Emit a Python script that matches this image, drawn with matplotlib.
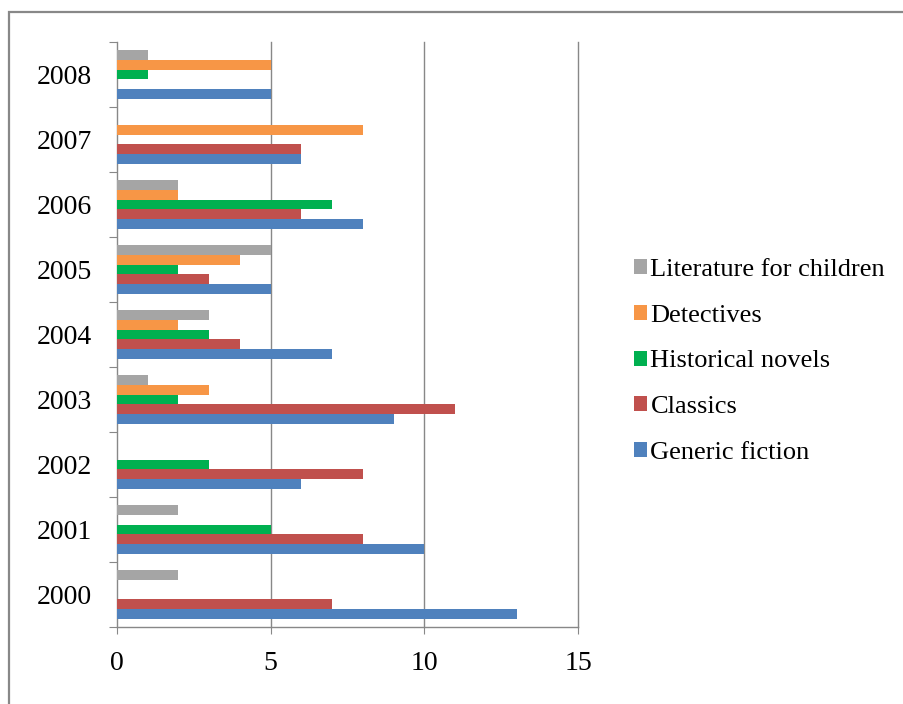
import matplotlib.pyplot as plt
import matplotlib.patches as patches
import numpy as np

plt.rcParams['font.family'] = ['Liberation Serif', 'DejaVu Serif']

# Data
years = ['2000', '2001', '2002', '2003', '2004', '2005', '2006', '2007', '2008']
generic_fiction = [13, 10, 6, 9, 7, 5, 8, 6, 5]
classics = [7, 8, 8, 11, 4, 3, 6, 6, 0]
historical_novels = [0, 5, 3, 2, 3, 2, 7, 0, 1]
detectives = [0, 0, 0, 3, 2, 4, 2, 8, 5]
literature_children = [2, 2, 0, 1, 3, 5, 2, 0, 1]

series = [
    ('Generic fiction', generic_fiction, '#4F81BD'),
    ('Classics', classics, '#C0504D'),
    ('Historical novels', historical_novels, '#00B050'),
    ('Detectives', detectives, '#F79646'),
    ('Literature for children', literature_children, '#A5A5A5'),
]

fig = plt.figure(figsize=(9.04, 7.04), dpi=100)
ax = fig.add_axes([0.1294, 0.1094, 0.5100, 0.8309])

# outer frame like the spreadsheet chart border
fig.add_artist(patches.Rectangle((9 / 904, -0.05), 1.0, 1 - 12 / 704 + 0.05,
                                 transform=fig.transFigure, fill=False,
                                 edgecolor='#888888', linewidth=1.6))

y = np.arange(len(years))
h = 0.15
handles = []
for i, (name, vals, color) in enumerate(series):
    off = (i - 2) * h
    b = ax.barh(y + off, vals, height=h, color=color, edgecolor='none',
                label=name, zorder=3)
    handles.append(b)

ax.set_xlim(0, 15)
ax.set_ylim(-0.5, len(years) - 0.5)
ax.set_xticks([0, 5, 10, 15])
ax.tick_params(axis='x', labelsize=20, length=5, color='#888888', pad=12)

# boundaries as major ticks, labels as minor ticks at centers
ax.set_yticks(np.arange(-0.5, len(years), 1.0))
ax.set_yticklabels([])
ax.tick_params(axis='y', which='major', length=6, color='#888888')
ax.set_yticks(y, minor=True)
ax.set_yticklabels(years, minor=True)
ax.tick_params(axis='y', which='minor', length=0, labelsize=20, pad=18)

# vertical gridlines (drawn unclipped so the one at 15 is full width)
for gx in [5, 10, 15]:
    ax.axvline(gx, color='#888888', linewidth=1.0, zorder=0, clip_on=False)
ax.spines['top'].set_visible(False)
ax.spines['right'].set_visible(False)
for s in ['left', 'bottom']:
    ax.spines[s].set_color('#888888')
    ax.spines[s].set_linewidth(1.0)

leg = ax.legend(handles=handles[::-1], loc='center left',
                bbox_to_anchor=(1.07, 0.454), frameon=False, fontsize=19,
                handlelength=0.5, handleheight=0.5, handletextpad=0.12,
                labelspacing=0.9)

fig.savefig('out.png', dpi=100)
